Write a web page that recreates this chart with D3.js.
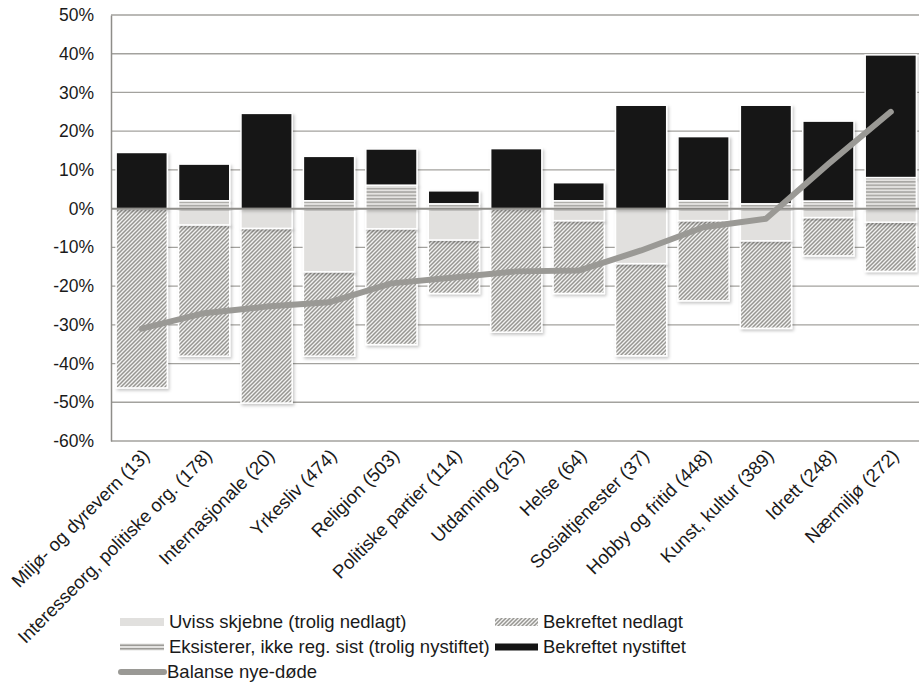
<!DOCTYPE html>
<html><head><meta charset="utf-8">
<script src="https://cdn.jsdelivr.net/npm/d3@7/dist/d3.min.js"></script>
<style>body{margin:0;background:#fff;}svg{display:block;font-family:"Liberation Sans",Arial,sans-serif;}</style>
</head><body>
<svg id="c" width="919" height="694"></svg>
<script>
const categories = ["Miljø- og dyrevern (13)", "Interesseorg, politiske org. (178)", "Internasjonale (20)", "Yrkesliv (474)", "Religion (503)", "Politiske partier (114)", "Utdanning (25)", "Helse (64)", "Sosialtjenester (37)", "Hobby og fritid (448)", "Kunst, kultur (389)", "Idrett (248)", "Nærmiljø (272)"];
const eksisterer = [0, 2, 0, 2, 6, 1.2, 0, 2, 0, 2, 1.2, 1.9, 8];
const nystiftet = [14.5, 9.5, 24.6, 11.5, 9.4, 3.4, 15.5, 4.7, 26.7, 16.6, 25.5, 20.7, 31.7];
const uviss = [0, 4.2, 5.1, 16.3, 5.2, 8.1, 0, 3.1, 14.2, 3.1, 8.3, 2.3, 3.5];
const nedlagt = [46.3, 33.9, 45.1, 21.8, 29.9, 13.8, 31.9, 18.8, 23.8, 20.7, 22.6, 9.9, 12.7];
const balanse = [-31, -27, -25.3, -24.2, -19.3, -17.8, -16.2, -16, -10.8, -4.8, -2.6, 11.5, 25];
const yTicks = [50, 40, 30, 20, 10, 0, -10, -20, -30, -40, -50, -60];
const legendLabels = ["Uviss skjebne (trolig nedlagt)", "Bekreftet nedlagt", "Eksisterer, ikke reg. sist (trolig nystiftet)", "Bekreftet nystiftet", "Balanse nye-døde"];

const svg = d3.select("#c");
const defs = svg.append("defs");
const hatch = defs.append("pattern").attr("id","hatch").attr("patternUnits","userSpaceOnUse").attr("width",4).attr("height",4);
hatch.append("rect").attr("width",4).attr("height",4).attr("fill","#f2f2f1");
hatch.append("path").attr("d","M-1,1 l2,-2 M0,4 l4,-4 M3,5 l2,-2").attr("stroke","#979692").attr("stroke-width",1.5);
const hl = defs.append("pattern").attr("id","hlines").attr("patternUnits","userSpaceOnUse").attr("width",4).attr("height",3.4);
hl.append("rect").attr("width",4).attr("height",3.4).attr("fill","#e4e3e1");
hl.append("rect").attr("y",1).attr("width",4).attr("height",1.3).attr("fill","#9c9b97");
const f = defs.append("filter").attr("id","sh").attr("x","-20%").attr("y","-20%").attr("width","150%").attr("height","150%");
f.append("feDropShadow").attr("dx",1.5).attr("dy",2).attr("stdDeviation",1.5).attr("flood-color","#000").attr("flood-opacity",0.22);

const x = d3.scaleBand().domain(categories).range([110.5, 922]).paddingInner(0.18).paddingOuter(0.09);
const y = d3.scaleLinear().domain([-60, 50]).range([441, 15]);

// grid
svg.append("g").selectAll("line").data(yTicks.filter(d=>d!==0)).join("line")
  .attr("x1", 111).attr("x2", 919).attr("y1", d=>y(d)).attr("y2", d=>y(d))
  .attr("stroke","#a3a29e").attr("stroke-width",1.3);

// y axis
const yAxis = d3.axisLeft(y).tickValues(yTicks).tickFormat(d=>d+"%").tickSize(0).tickPadding(17);
const ga = svg.append("g").attr("transform","translate(111,0)").call(yAxis);
ga.select(".domain").attr("stroke","#8e8d89").attr("stroke-width",1.5);
ga.selectAll("text").attr("font-size",17.5).attr("fill","#1a1a1a").attr("font-family","'Liberation Sans',Arial,sans-serif");

const idx = d3.range(categories.length);
const bars = svg.append("g");
function seg(cls, y0f, y1f, fill){
  bars.selectAll("rect."+cls).data(idx.filter(i => Math.abs(y1f(i)-y0f(i))>0.01)).join("rect").attr("class",cls)
    .attr("x", i=>x(categories[i])).attr("width", x.bandwidth())
    .attr("y", i=>Math.min(y(y0f(i)), y(y1f(i)))).attr("height", i=>Math.abs(y(y0f(i))-y(y1f(i))))
    .attr("fill", fill).attr("stroke","#fff").attr("stroke-width",1.5).attr("filter","url(#sh)");
}
seg("ned", i=>-uviss[i], i=>-uviss[i]-nedlagt[i], "url(#hatch)");
seg("uv", i=>0, i=>-uviss[i], "#e1e0de");
seg("nys", i=>eksisterer[i], i=>eksisterer[i]+nystiftet[i], "#151515");
seg("eks", i=>0, i=>eksisterer[i], "url(#hlines)");

// zero axis
svg.append("line").attr("x1",111).attr("x2",919).attr("y1",y(0)).attr("y2",y(0)).attr("stroke","#8e8d89").attr("stroke-width",2);

// balance line
const line = d3.line().x((d,i)=>x(categories[i])+x.bandwidth()/2).y(d=>y(d));
svg.append("path").datum(balanse).attr("d", line).attr("fill","none").attr("stroke","#9a9995")
  .attr("stroke-width",6).attr("stroke-linecap","round").attr("stroke-linejoin","round");

// x labels
svg.append("g").selectAll("text").data(categories).join("text")
  .attr("transform", d=>`translate(${x(d)+x.bandwidth()/2+9},${457}) rotate(-45)`)
  .attr("text-anchor","end").attr("font-size",18.5).attr("fill","#1a1a1a").text(d=>d);

// legend
const lg = svg.append("g").attr("font-size",18.5).attr("fill","#1a1a1a");
const r1 = 622, r2 = 647, r3 = 672;
lg.append("rect").attr("x",120).attr("y",r1-4).attr("width",44).attr("height",8).attr("fill","#e1e0de");
lg.append("text").attr("x",169).attr("y",r1).attr("dy","0.35em").text(legendLabels[0]);
lg.append("rect").attr("x",495).attr("y",r1-4).attr("width",43).attr("height",8).attr("fill","url(#hatch)");
lg.append("text").attr("x",543).attr("y",r1).attr("dy","0.35em").text(legendLabels[1]);
lg.append("rect").attr("x",120).attr("y",r2-3.5).attr("width",44).attr("height",7).attr("fill","#e4e3e1");
lg.append("rect").attr("x",120).attr("y",r2-2.5).attr("width",44).attr("height",1.5).attr("fill","#9c9b97");
lg.append("rect").attr("x",120).attr("y",r2+1).attr("width",44).attr("height",1.5).attr("fill","#9c9b97");
lg.append("text").attr("x",169).attr("y",r2).attr("dy","0.35em").text(legendLabels[2]);
lg.append("rect").attr("x",495).attr("y",r2-3.5).attr("width",43).attr("height",7).attr("fill","#151515");
lg.append("text").attr("x",543).attr("y",r2).attr("dy","0.35em").text(legendLabels[3]);
lg.append("line").attr("x1",121).attr("x2",164).attr("y1",r3).attr("y2",r3).attr("stroke","#9a9995").attr("stroke-width",6).attr("stroke-linecap","round");
lg.append("text").attr("x",167).attr("y",r3).attr("dy","0.35em").text(legendLabels[4]);
</script>
</body></html>
